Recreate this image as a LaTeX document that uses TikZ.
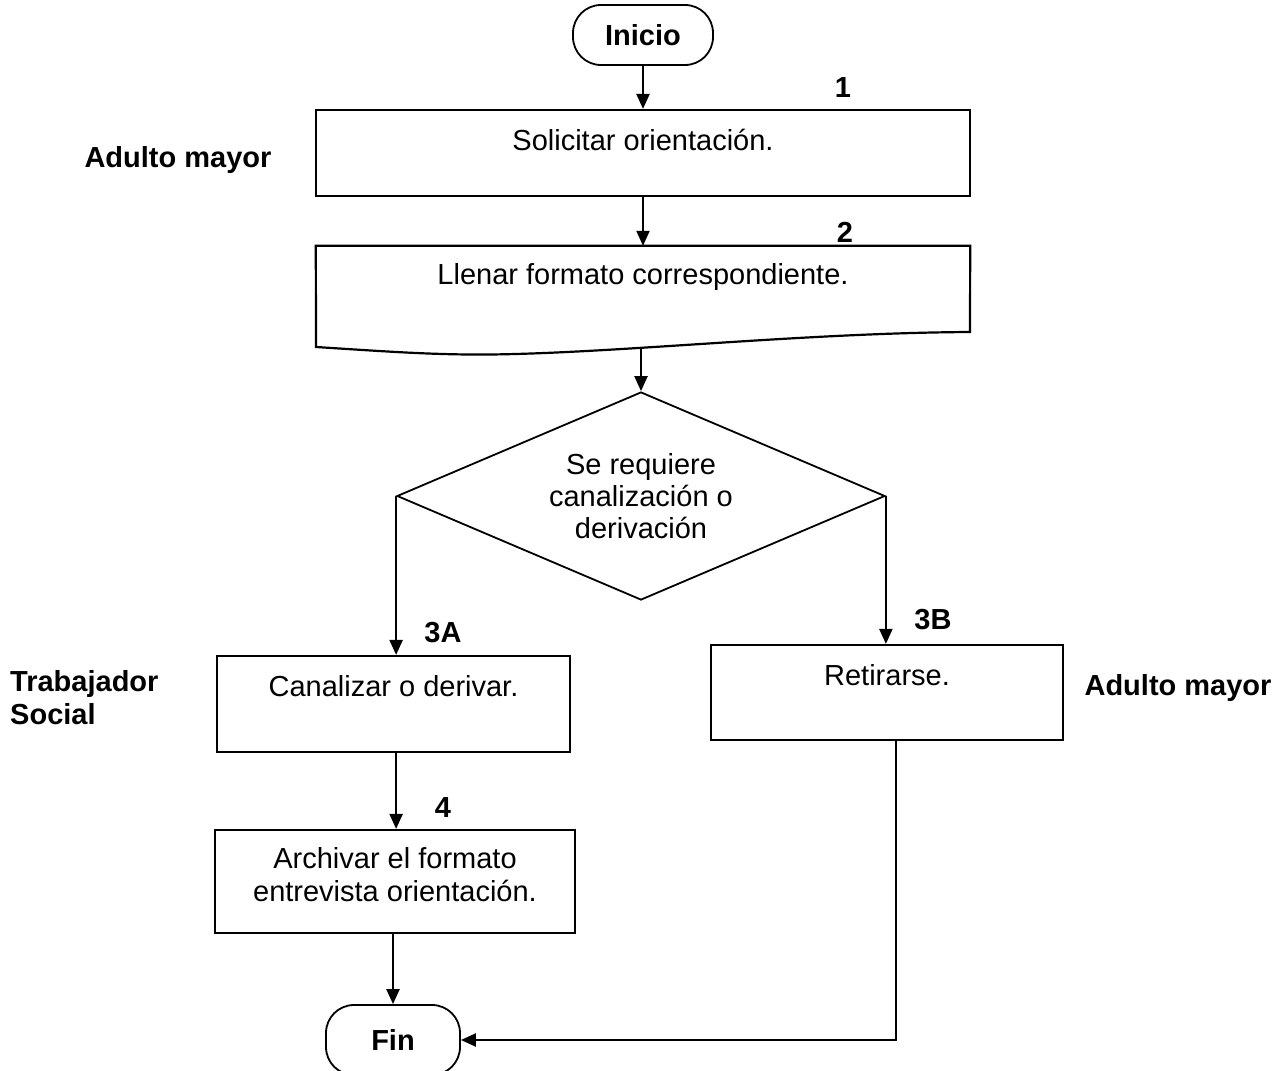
\documentclass[tikz,border=0pt]{standalone}
\usepackage{fontspec}
\setmainfont{Liberation Sans}
\usetikzlibrary{shapes.geometric,arrows.meta}
\begin{document}
\begin{tikzpicture}[x=1pt,y=-1pt,
  every node/.style={font=\fontsize{29pt}{33pt}\selectfont},
  box/.style={draw, line width=2.2pt, inner sep=0pt},
  term/.style={draw, line width=1.8pt, rounded corners=28pt, inner sep=0pt, font=\fontsize{29pt}{33pt}\selectfont\bfseries},
  txt/.style={inner sep=0pt, align=center},
  lbl/.style={inner sep=0pt, font=\fontsize{29pt}{33pt}\selectfont\bfseries, align=left},
  arr/.style={line width=2.2pt, -{Triangle[length=15pt,width=13pt]}}]
\useasboundingbox (0,0) rectangle (1280,1071);

% terminals
\node[term, minimum width=140pt, minimum height=60pt] (inicio) at (643,35) {Inicio};
\node[term, minimum width=134pt, minimum height=70pt] (fin) at (393,1040) {Fin};

% step 1
\node[box, minimum width=654pt, minimum height=86pt] (b1) at (643,153) {};
\node[txt] (t1) at (643,140) {Solicitar orientación.};
\node[lbl] (n1) at (843,88) {1};

% step 2 (document)
\node[inner sep=0pt, minimum width=654pt, minimum height=86pt] (b2) at (643,289) {};
\draw[line width=2.2pt, line join=miter] (b2.north west) -- (b2.north east) -- (970,332)
  .. controls (800,333) and (620,353) .. (490,354.5)
  .. controls (430,355) and (380,351) .. (316,347) -- cycle;
\coordinate (w2) at (641,349);
\node[txt] (t2) at (643,277) {Llenar formato correspondiente.};
\node[lbl] (n2) at (845,232) {2};

% decision
\node[draw, diamond, line width=1.8pt, aspect=2.35, inner sep=0pt,
  minimum width=488pt, minimum height=208pt, align=center,
  font=\fontsize{29pt}{32pt}\selectfont] (dec) at (641,496)
  {Se requiere\\canalización o\\derivación};

% step 3A
\node[box, minimum width=353pt, minimum height=96pt] (b3a) at (393.5,704) {};
\node[txt] (t3a) at (393.5,686) {Canalizar o derivar.};
\node[lbl] (n3a) at (443,633) {3A};

% step 3B
\node[box, minimum width=352pt, minimum height=95pt] (b3b) at (887,692.5) {};
\node[txt] (t3b) at (887,675) {Retirarse.};
\node[lbl] (n3b) at (933,620) {3B};

% step 4
\node[box, minimum width=360pt, minimum height=103pt] (b4) at (395,881.5) {};
\node[txt] (t4) at (395,875) {Archivar el formato\\entrevista orientación.};
\node[lbl] (n4) at (443,808) {4};

% role labels
\node[lbl] (r1) at (178,160) {Adulto mayor};
\node[lbl, anchor=west] (r2) at (10,698) {Trabajador\\Social};
\node[lbl] (r3) at (1178,688) {Adulto mayor};

% connectors
\draw[arr] (inicio.south) -- (inicio.south |- b1.north);
\draw[arr] (b1.south) -- (b1.south |- b2.north);
\draw[arr] (w2) -- (dec.north);
\draw[arr] (dec.west) -- (dec.west |- b3a.north);
\draw[arr] (dec.east) -- (dec.east |- b3b.north);
\draw[arr] (b3a.south -| dec.west) -- (b4.north -| dec.west);
\draw[arr] (b4.south -| fin.north) -- (fin.north);
\draw[arr] ([xshift=9pt]b3b.south) |- (fin.east);
\end{tikzpicture}
\end{document}
